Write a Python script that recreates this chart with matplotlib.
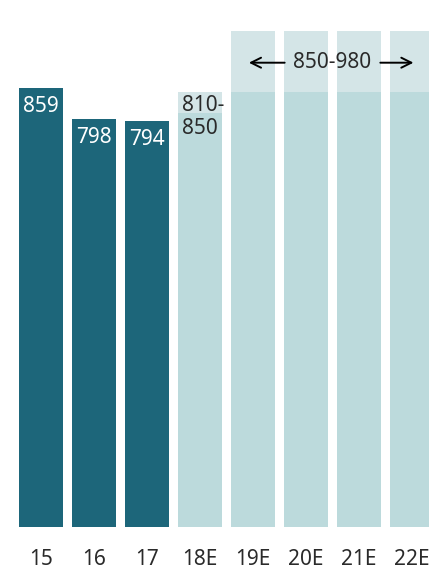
import matplotlib.pyplot as plt

# Data
years = ['15', '16', '17', '18E', '19E', '20E', '21E', '22E']
actual = [859, 798, 794]
est_low = [810, 850, 850, 850, 850]
est_high = [850, 980, 980, 980, 980]

dark = '#1d667a'
light = '#bcdadc'
lighter = '#d4e5e7'
text_col = '#2a2a2a'
fs = 15

plt.rcParams['font.family'] = ['Noto Sans', 'DejaVu Sans']

fig = plt.figure(figsize=(4.29, 5.69), dpi=100)
ax = fig.add_axes([0, 42 / 569, 1, 496 / 569])

x = list(range(len(years)))
w = 0.83
xa = x[:len(actual)]
xe = x[len(actual):]

ax.bar(xa, actual, width=w, color=dark)
ax.bar(xe, est_low, width=w, color=light)
ax.bar(xe, [h - l for l, h in zip(est_low, est_high)], bottom=est_low,
       width=w, color=lighter)

# value labels inside the actual bars
for xi, v in zip(xa, actual):
    ax.annotate(str(v), (xi - w / 2, v), xytext=(4, -8),
                textcoords='offset pixels', ha='left', va='top',
                color='white', fontsize=fs)

# range label for the first estimate year
ax.annotate(f'{est_low[0]}-\n{est_high[0]}', (xe[0] - w / 2, est_high[0]),
            xytext=(4, -3), textcoords='offset pixels', ha='left', va='top',
            color=text_col, fontsize=fs, linespacing=1.12)

# shared range label across the later estimate years
mid = (xe[1] + xe[-1]) / 2
ylab = 908
ax.text(mid, ylab, f'{est_low[1]}-{est_high[1]}', ha='center', va='center',
        color=text_col, fontsize=fs)
ax.annotate('', xy=(xe[1] - 0.13, ylab), xytext=(mid - 0.85, ylab),
            arrowprops=dict(arrowstyle='->', color='black', lw=1.4,
                            mutation_scale=18))
ax.annotate('', xy=(xe[-1] + 0.08, ylab), xytext=(mid + 0.85, ylab),
            arrowprops=dict(arrowstyle='->', color='black', lw=1.4,
                            mutation_scale=18))

ax.set_xlim(-41 / 53, 388 / 53)
ax.set_ylim(0, 970)
ax.set_xticks(x)
ax.set_xticklabels(years)
ax.tick_params(axis='x', length=0, pad=16, labelsize=fs, colors=text_col)
ax.set_yticks([])
for s in ax.spines.values():
    s.set_visible(False)

fig.savefig('out.png', dpi=100)
